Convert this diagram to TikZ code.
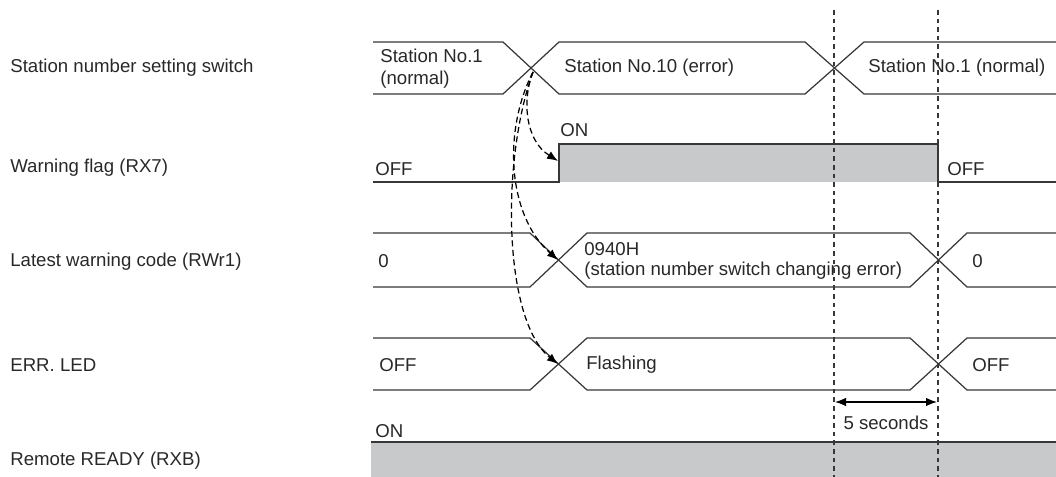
\documentclass[tikz,border=0pt]{standalone}
\usepackage{fontspec}
\setmainfont{Liberation Sans}
\usetikzlibrary{arrows.meta}
\definecolor{linegray}{RGB}{55,55,55}
\definecolor{fillgray}{RGB}{200,201,203}
\definecolor{textgray}{RGB}{40,40,40}

\begin{document}
\begin{tikzpicture}[x=0.02cm, y=-0.02cm, >={Latex[length=0.22cm,width=0.17cm]},
    font=\fontsize{10.6}{12.5}\selectfont,
    sig/.style={draw=linegray, line width=0.7pt},
    lbl/.style={anchor=west, inner sep=0pt, text=textgray},
    guide/.style={draw=linegray, line width=0.7pt, dash pattern=on 2.6pt off 2.3pt},
    cause/.style={->, draw=black, line width=0.7pt, dash pattern=on 3.4pt off 2pt}]

        \useasboundingbox (0,0) rectangle (1056,477);

        % Signal names
        \node[lbl] (sigswitch) at (10,68) {Station number setting switch};
        \node[lbl] (sigflag) at (10,168) {Warning flag (RX7)};
        \node[lbl] (sigcode) at (10,262) {Latest warning code (RWr1)};
        \node[lbl] (sigled) at (10,365) {ERR. LED};
        \node[lbl] (sigready) at (10,461) {Remote READY (RXB)};

        % Remote READY (always ON)
        \fill[fillgray] (371,442) rectangle (1056,477);
        \draw[sig] (371,442) -- (1056,442);
        \node[lbl] (readyon) at (375,431) {ON};

        % Warning flag
        \fill[fillgray] (559,144) rectangle (938,182);
        \draw[sig] (373,182) -- (559,182) -- (559,144) -- (938,144) -- (938,182) -- (1056,182);
        \node[lbl] (flagoff) at (375,169) {OFF};
        \node[lbl] (flagon) at (560,130) {ON};
        \node[lbl] (flagoff2) at (947,169) {OFF};

        % Station number setting switch
        \draw[sig] (373,42) -- (503,42) -- (559,94) -- (805,94) -- (864,42) -- (1056,42);
        \draw[sig] (373,94) -- (503,94) -- (559,42) -- (805,42) -- (864,94) -- (1056,94);
        \node[lbl, align=left] (swold) at (380,69) {Station No.1\\(normal)};
        \node[lbl] (swnew) at (564,68) {Station No.10 (error)};
        \node[lbl] (swback) at (868,68) {Station No.1 (normal)};

        % Latest warning code
        \draw[sig] (373,233) -- (530,233) -- (587,287) -- (910,287) -- (967,233) -- (1056,233);
        \draw[sig] (373,287) -- (530,287) -- (587,233) -- (910,233) -- (967,287) -- (1056,287);
        \node[lbl] (codeold) at (378,261) {0};
        \node[lbl, align=left, font=\fontsize{10.6}{10.9}\selectfont] (codeerr) at (584,261)
            {0940H\\(station number switch changing error)};
        \node[lbl] (codeback) at (972,261) {0};

        % ERR. LED
        \draw[sig] (373,338) -- (530,338) -- (587,390) -- (910,390) -- (967,338) -- (1056,338);
        \draw[sig] (373,390) -- (530,390) -- (587,338) -- (910,338) -- (967,390) -- (1056,390);
        \node[lbl] (ledoff) at (379,365) {OFF};
        \node[lbl] (ledflash) at (586,365) {Flashing};
        \node[lbl] (ledoff2) at (972,365) {OFF};

        % Time marks
        \coordinate (t1top) at (834,10);
        \coordinate (t1bot) at (834,477);
        \coordinate (t2top) at (938,10);
        \coordinate (t2bot) at (938,477);
        \draw[guide] (t1top) -- (t1bot);
        \draw[guide] (t2top) -- (t2bot);

        \coordinate (t1mark) at (835,402);
        \coordinate (t2mark) at (937,402);
        \draw[<->, draw=black, line width=0.7pt] (t1mark) -- node[midway, below=7.5pt, inner sep=0pt, text=textgray] (delay) {5 seconds} (t2mark);

        % Cause -> effect (dashed curves)
        \coordinate (swcross) at (533,72);
        \coordinate (flagup) at (558,161);
        \coordinate (codecross) at (558,260);
        \coordinate (ledcross) at (558,364);
        \draw[cause] (swcross) .. controls (522,100) and (525,140) .. (flagup);
        \draw[cause] (swcross) .. controls (503,130) and (507,215) .. (codecross);
        \draw[cause] (swcross) .. controls (501,160) and (503,320) .. (ledcross);

    \end{tikzpicture}
\end{document}
